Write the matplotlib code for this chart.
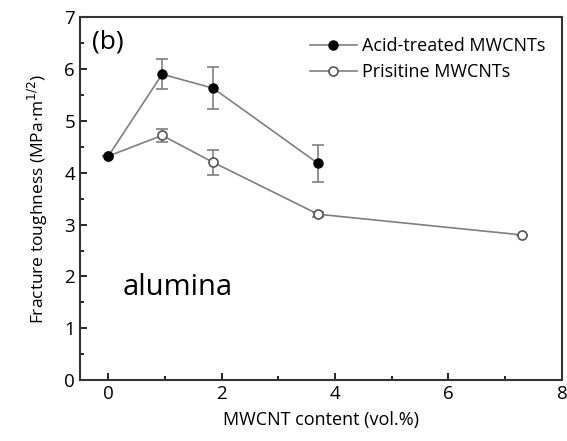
import numpy as np
import matplotlib
matplotlib.use("Agg")
import matplotlib.pyplot as plt
from matplotlib.ticker import MultipleLocator
from matplotlib.lines import Line2D

plt.rcParams['font.family'] = ['Open Sans', 'DejaVu Sans']

# data
acid_x = [0, 0.95, 1.85, 3.7]
acid_y = [4.32, 5.9, 5.63, 4.18]
acid_err = [0.0, 0.29, 0.4, 0.35]

pris_x = [0, 0.95, 1.85, 3.7, 7.3]
pris_y = [4.32, 4.72, 4.2, 3.2, 2.8]
pris_err = [0.0, 0.12, 0.24, 0.05, 0.0]

fig = plt.figure(figsize=(5.67, 4.41), dpi=100)
ax = fig.add_axes([0.141, 0.138, 0.85, 0.823])

line_col = '#808080'
ax.errorbar(pris_x, pris_y, yerr=pris_err, color=line_col, ecolor=line_col,
            elinewidth=1.2, capsize=4, capthick=1.2, lw=1.2,
            marker='o', ms=6.5, mfc='white', mec='#555555', mew=1.2)
ax.errorbar(acid_x, acid_y, yerr=acid_err, color=line_col, ecolor=line_col,
            elinewidth=1.2, capsize=4, capthick=1.2, lw=1.2,
            marker='o', ms=6.5, mfc='black', mec='black')

ax.set_xlim(-0.5, 8)
ax.set_ylim(0, 7)
ax.xaxis.set_major_locator(MultipleLocator(2))
ax.xaxis.set_minor_locator(MultipleLocator(1))
ax.yaxis.set_major_locator(MultipleLocator(1))
ax.yaxis.set_minor_locator(MultipleLocator(0.5))
ax.tick_params(which='both', direction='in', labelsize=13.5, width=1.2)
ax.tick_params(which='major', length=5)
ax.tick_params(which='minor', length=3)
for s in ax.spines.values():
    s.set_linewidth(1.5)
    s.set_color('#333333')

ax.set_xlabel('MWCNT content (vol.%)', fontsize=13, labelpad=6)
ax.set_ylabel(r'Fracture toughness (MPa$\cdot$m$^{1/2}$)', fontsize=12.5,
              labelpad=10)

handles = [
    Line2D([], [], color=line_col, lw=1.2, marker='o', ms=6.5,
           mfc='black', mec='black'),
    Line2D([], [], color=line_col, lw=1.2, marker='o', ms=6.5,
           mfc='white', mec='#555555', mew=1.2),
]
ax.legend(handles, ['Acid-treated MWCNTs', 'Prisitine MWCNTs'],
          loc='upper right', frameon=False, fontsize=13, handlelength=2.6,
          bbox_to_anchor=(1.0, 0.99), labelspacing=0.45, handletextpad=0.3)

ax.text(0.025, 0.965, '(b)', transform=ax.transAxes, fontsize=19,
        va='top', ha='left')
ax.text(0.089, 0.234, 'alumina', transform=ax.transAxes, fontsize=21,
        va='baseline', ha='left')

fig.savefig('out.png', dpi=100)
